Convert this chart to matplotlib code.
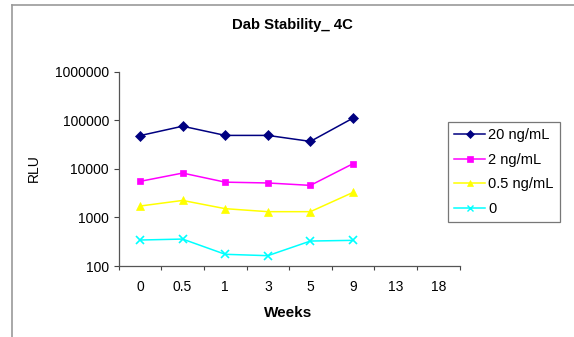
import matplotlib
matplotlib.use("Agg")
import matplotlib.pyplot as plt
from matplotlib.lines import Line2D
import numpy as np

plt.rcParams['font.family'] = ['Liberation Sans', 'DejaVu Sans']

weeks = ["0", "0.5", "1", "3", "5", "9", "13", "18"]
measured = ["0", "0.5", "1", "3", "5", "9"]

rlu_20 = [48000, 75000, 48500, 48500, 36500, 110000]
rlu_2 = [5500, 8150, 5300, 5100, 4550, 12700]
rlu_05 = [1710, 2230, 1510, 1310, 1310, 3260]
rlu_0 = [342, 358, 174, 163, 326, 337]

series = [
    ("20 ng/mL", rlu_20, "#000080", "D", 5.0),
    ("2 ng/mL", rlu_2, "#ff00ff", "s", 5.0),
    ("0.5 ng/mL", rlu_05, "#ffff00", "^", 6.0),
    ("0", rlu_0, "#00ffff", "x", 5.5),
]

fig = plt.figure(figsize=(5.74, 3.37), dpi=100)
ax = fig.add_axes([118.7/574, 1 - 266/337, 340.8/574, 194.5/337])

x = np.arange(len(measured))
handles = []
for label, vals, color, marker, ms in series:
    ax.plot(x, vals, color=color, marker=marker, markersize=ms, linewidth=1.1,
            markeredgewidth=1.2 if marker == "x" else 0.5)
    handles.append(Line2D([], [], color=color, marker=marker, linewidth=1.1,
                          markersize=ms * 0.75,
                          markeredgewidth=1.0 if marker == "x" else 0.5,
                          label=label))

ax.set_yscale("log")
ax.set_ylim(100, 1000000)
ax.set_yticks([100, 1000, 10000, 100000, 1000000])
ax.set_yticklabels(["100", "1000", "10000", "100000", "1000000"])
ax.yaxis.set_minor_locator(matplotlib.ticker.NullLocator())

ax.set_xlim(-0.5, len(weeks) - 0.5)
ax.set_xticks(np.arange(len(weeks) + 1) - 0.5)
ax.set_xticklabels([""] * (len(weeks) + 1))
ax.set_xticks(np.arange(len(weeks)), minor=True)
ax.set_xticklabels(weeks, minor=True)
ax.tick_params(axis="x", which="major", direction="out", length=3, width=0.8, color="#444444")
ax.tick_params(axis="x", which="minor", length=0, pad=10, labelsize=10)
ax.tick_params(axis="y", direction="out", length=3.5, width=0.8, color="#444444",
               labelsize=10, pad=3.5)

for s in ("top", "right"):
    ax.spines[s].set_visible(False)
for s in ("left", "bottom"):
    ax.spines[s].set_color("#555555")
    ax.spines[s].set_linewidth(0.9)

fig.text(292/574, 1 - 25/337, "Dab Stability_ 4C", ha="center", va="center",
         fontsize=10.7, fontweight="bold")
fig.text(288/574, 1 - 312.7/337, "Weeks", ha="center", va="center",
         fontsize=11, fontweight="bold")
fig.text(34/574, 1 - 168.3/337, "RLU", ha="center", va="center",
         fontsize=10, rotation=90)

leg = fig.legend(handles=handles, loc="upper left",
                 bbox_to_anchor=(447.7/574, 1 - 122.3/337),
                 frameon=True, fancybox=False, fontsize=10.5, handlelength=2.15,
                 handletextpad=0.22, labelspacing=0.72, borderpad=0.42,
                 borderaxespad=0)
leg.get_frame().set_edgecolor("#555555")
leg.get_frame().set_linewidth(0.9)

# outer chart-area border (left and top edges)
fig.add_artist(Line2D([12.3/574, 12.3/574], [0, 1 - 4.7/337], color="#999999",
                      linewidth=1.2, transform=fig.transFigure))
fig.add_artist(Line2D([12.3/574, 1], [1 - 4.7/337, 1 - 4.7/337], color="#999999",
                      linewidth=1.2, transform=fig.transFigure))

fig.savefig("out.png", dpi=100)
